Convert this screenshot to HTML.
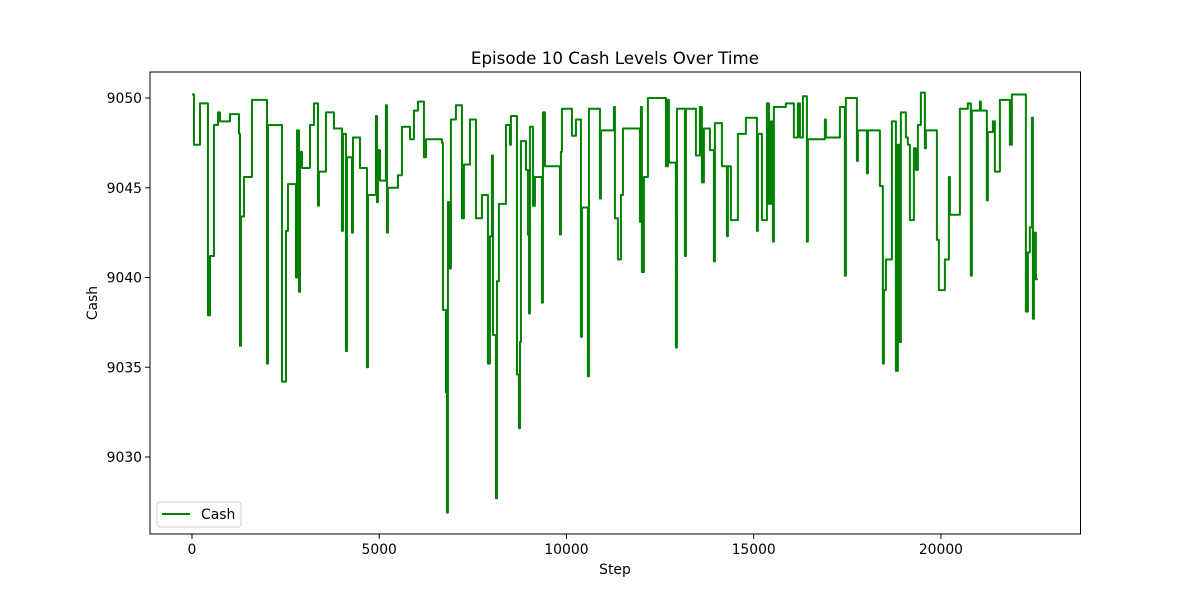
<!DOCTYPE html>
<html><head><meta charset="utf-8"><style>
html,body{margin:0;padding:0;background:#fff;}
svg text{font-family:"DejaVu Sans","Liberation Sans",sans-serif;fill:#000;}
</style></head><body>
<svg id="chart" width="1200" height="600" viewBox="0 0 1200 600" xmlns="http://www.w3.org/2000/svg">
<rect x="0" y="0" width="1200" height="600" fill="#fff"/>
<text x="615" y="64" font-size="16.7" text-anchor="middle">Episode 10 Cash Levels Over Time</text>
<text x="615" y="574" font-size="13.9" text-anchor="middle">Step</text>
<text x="97" y="303" font-size="13.9" text-anchor="middle" transform="rotate(-90 97 303)">Cash</text>
<g id="ticks"></g>
<g id="series"></g>
<rect x="150" y="72" width="930.5" height="462" fill="none" stroke="#000" stroke-width="1"/>
<g>
<rect x="157" y="502" width="84" height="25" rx="3" fill="#fff" fill-opacity="0.8" stroke="#ccc" stroke-width="1"/>
<line x1="162" y1="514" x2="190" y2="514" stroke="#008000" stroke-width="2"/>
<text x="201" y="519" font-size="13.9">Cash</text>
</g>
</svg>
<script>
const xTicks = [0, 5000, 10000, 15000, 20000];
const yTicks = [9030, 9035, 9040, 9045, 9050];
const steps = [
0,53,214,427,481,587,694,748,1015,1255,
1282,1308,1388,1602,2003,2029,2403,2510,2563,2777,
2804,2857,2884,2937,3151,3257,3364,3391,3578,3791,
4005,4032,4112,4139,4272,4299,4486,4673,4699,4913,
4940,4966,5020,5180,5207,5233,5500,5607,5821,5927,
6034,6194,6248,6675,6702,6782,6809,6835,6862,6915,
7049,7209,7262,7423,7583,7743,7903,7957,8010,8037,
8117,8144,8197,8384,8491,8517,8678,8731,8758,8784,
8918,8971,8998,9025,9105,9158,9345,9372,9425,9826,
9852,9879,10146,10253,10386,10413,10573,10600,10894,10920,
11267,11294,11374,11454,11508,11962,11988,12015,12068,12175,
12656,12709,12736,12923,12950,13163,13190,13457,13564,13617,
13670,13831,13937,13964,14151,14285,14311,14391,14578,14792,
15086,15112,15219,15353,15406,15459,15513,15539,15860,16073,
16180,16234,16314,16421,16447,16901,16928,17302,17435,17462,
17756,17782,18023,18050,18370,18450,18477,18530,18690,18797,
18850,18904,18930,19064,19117,19171,19277,19331,19384,19464,
19571,19598,19892,19945,20105,20212,20239,20506,20719,20799,
20826,21040,21066,21227,21253,21387,21440,21574,21841,21894,
22268,22322,22375,22428,22455,22482,22535,22588];
const cash = [
9050.2,9047.4,9049.7,9037.9,9041.2,9048.5,9049.2,9048.7,9049.1,9048.0,
9036.2,9043.4,9045.6,9049.9,9035.2,9048.5,9034.2,9042.6,9045.2,9040.0,
9048.2,9039.2,9047.0,9046.1,9048.5,9049.7,9044.0,9045.9,9049.2,9048.3,
9042.6,9048.0,9035.9,9046.7,9042.5,9047.8,9046.1,9035.0,9044.6,9049.0,
9044.2,9047.1,9045.4,9049.6,9042.5,9045.0,9045.7,9048.4,9047.7,9049.3,
9049.8,9046.7,9047.7,9047.5,9038.2,9033.6,9026.9,9044.2,9040.5,9048.8,
9049.6,9043.3,9046.3,9048.8,9043.3,9044.6,9035.2,9042.3,9046.8,9036.8,
9027.7,9039.8,9044.1,9048.5,9047.4,9049.0,9034.6,9031.6,9036.4,9047.6,
9046.0,9042.4,9038.0,9048.4,9044.0,9045.6,9038.6,9049.2,9046.2,9042.4,
9047.0,9049.4,9047.9,9048.8,9036.7,9043.9,9034.5,9049.4,9044.4,9048.2,
9049.5,9043.3,9041.0,9044.6,9048.3,9043.1,9049.5,9040.3,9045.6,9050.0,
9046.2,9049.9,9046.4,9036.1,9049.4,9041.2,9049.4,9046.8,9049.5,9045.3,
9048.3,9047.1,9040.9,9048.6,9046.2,9042.3,9046.2,9043.2,9048.0,9048.9,
9042.6,9048.0,9043.2,9049.7,9044.1,9048.7,9042.0,9049.5,9049.7,9047.8,
9049.7,9047.8,9050.1,9042.0,9047.7,9048.8,9047.8,9049.5,9040.1,9050.0,
9046.5,9048.2,9045.8,9048.2,9045.1,9035.2,9039.3,9041.0,9048.7,9034.8,
9047.4,9036.4,9049.2,9047.8,9047.4,9043.2,9047.2,9046.0,9048.5,9050.3,
9047.2,9048.2,9042.1,9039.3,9041.0,9045.6,9043.5,9049.4,9049.7,9040.1,
9049.3,9049.8,9049.3,9044.3,9048.1,9048.7,9045.9,9049.9,9047.4,9050.2,
9038.1,9041.4,9042.8,9048.9,9037.7,9042.5,9039.9,9039.9];

const X0 = 150, X1 = 1080.5, Y0 = 534, Y1 = 72;
const xMin = -1121, xMax = 23727, yMin = 9025.71, yMax = 9051.45;
function xs(v){ return X0 + (v - xMin) / (xMax - xMin) * (X1 - X0); }
function ys(v){ return Y0 - (v - yMin) / (yMax - yMin) * (Y0 - Y1); }
const NS = "http://www.w3.org/2000/svg";
const tg = document.getElementById('ticks');
xTicks.forEach(t => {
  const l = document.createElementNS(NS, 'line');
  l.setAttribute('x1', xs(t)); l.setAttribute('x2', xs(t));
  l.setAttribute('y1', Y0); l.setAttribute('y2', Y0 + 4.9);
  l.setAttribute('stroke', '#000');
  
  
  tg.appendChild(l);
  const tx = document.createElementNS(NS, 'text');
  tx.setAttribute('x', xs(t)); tx.setAttribute('y', Y0 + 20);
  tx.setAttribute('font-size', '13.9'); tx.setAttribute('text-anchor', 'middle');
  tx.textContent = t;
  
  
  tg.appendChild(tx);
});
yTicks.forEach(t => {
  const l = document.createElementNS(NS, 'line');
  l.setAttribute('x1', X0 - 4.9); l.setAttribute('x2', X0);
  l.setAttribute('y1', ys(t)); l.setAttribute('y2', ys(t));
  l.setAttribute('stroke', '#000');
  
  
  tg.appendChild(l);
  const tx = document.createElementNS(NS, 'text');
  tx.setAttribute('x', X0 - 8); tx.setAttribute('y', ys(t) + 5);
  tx.setAttribute('font-size', '13.9'); tx.setAttribute('text-anchor', 'end');
  tx.textContent = t;
  
  
  tg.appendChild(tx);
});
let d = '';
const n = Math.min(steps.length, cash.length);
for (let i = 0; i < n; i++) {
  const x = xs(steps[i]).toFixed(2), y = ys(cash[i]).toFixed(2);
  if (i === 0) d += 'M' + x + ',' + y;
  else d += 'H' + x + 'V' + y;
}
const p = document.createElementNS(NS, 'path');
p.setAttribute('d', d);
p.setAttribute('fill', 'none');
p.setAttribute('stroke', '#008000');
p.setAttribute('stroke-width', '2');
p.setAttribute('stroke-linejoin', 'round');


document.getElementById('series').appendChild(p);
</script>
</body></html>
